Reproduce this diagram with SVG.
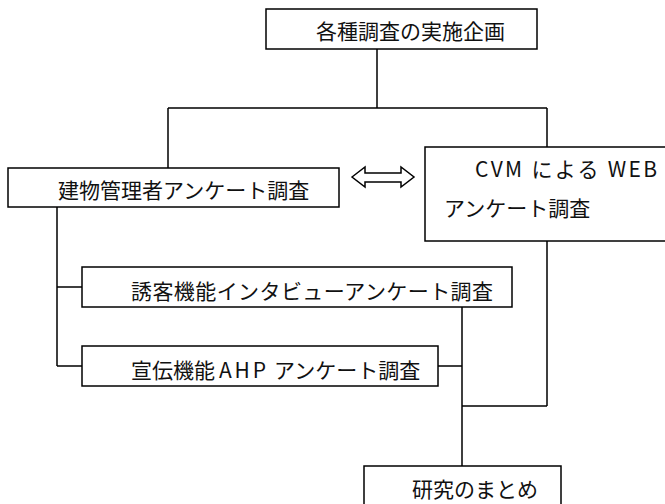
<svg xmlns="http://www.w3.org/2000/svg" width="665" height="504" viewBox="0 0 665 504">
<style>
.box{fill:#fff;stroke:#000;stroke-width:1.5}
.ln{fill:none;stroke:#000;stroke-width:1.5}
text{font-family:"Noto Sans CJK JP","Noto Sans",sans-serif;font-size:21px;fill:#111}
</style>
<rect width="665" height="504" fill="#fff"/>
<g id="connectors">
<path class="ln" d="M377,49V108M168,108H547M168,108V168M547,108V147M57,207V366M57,287H82M57,366H82M462,307V466M438,366H462M547,241V406M462,406H547"/>
<path class="box" d="M352,177L365,167V173H401V167L414,177L401,187V182H365V187Z"/>
</g>
<g id="n-plan">
<rect class="box" x="266" y="9" width="271" height="40"/>
<text x="316" y="39">各種調査の実施企画</text>
</g>
<g id="n-building">
<rect class="box" x="8" y="168" width="331" height="39"/>
<text x="58" y="198">建物管理者アンケート調査</text>
</g>
<g id="n-cvm">
<rect class="box" x="425" y="147" width="250" height="94"/>
<text x="475" y="177" textLength="182" lengthAdjust="spacing">CVM による WEB</text>
<text x="444" y="216">アンケート調査</text>
</g>
<g id="n-interview">
<rect class="box" x="82" y="267" width="430" height="40"/>
<text x="131" y="299" textLength="362" lengthAdjust="spacing">誘客機能インタビューアンケート調査</text>
</g>
<g id="n-ahp">
<rect class="box" x="82" y="346" width="356" height="40"/>
<text y="378"><tspan x="131">宣伝機能</tspan><tspan x="219" textLength="47" lengthAdjust="spacing">AHP</tspan><tspan x="274">アンケート調査</tspan></text>
</g>
<g id="n-summary">
<rect class="box" x="364" y="466" width="197" height="50"/>
<text x="412" y="497">研究のまとめ</text>
</g>
</svg>
